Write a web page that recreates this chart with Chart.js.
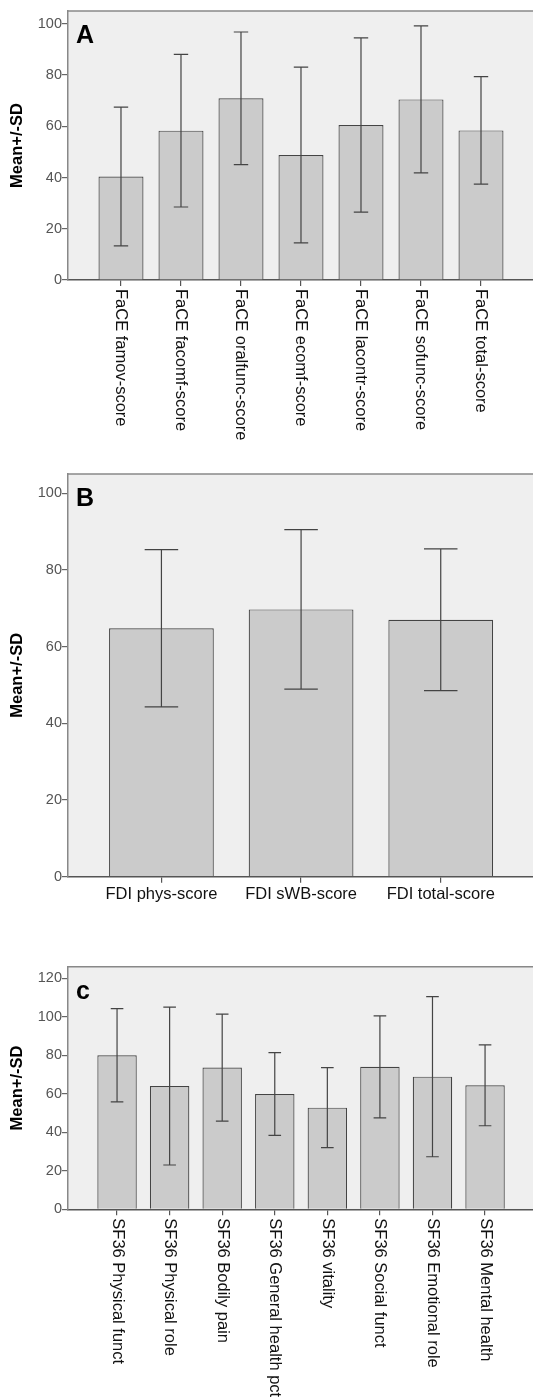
<!DOCTYPE html>
<html>
<head>
<meta charset="utf-8">
<script src="https://cdn.jsdelivr.net/npm/chart.js@4/dist/chart.umd.min.js"></script>
<style>
  html, body { margin: 0; padding: 0; background: #fff; overflow: hidden; }
  body { width: 533px; height: 1397px; position: relative; }
  canvas { position: absolute; left: 0; }
</style>
</head>
<body>
<canvas id="chartA" width="540" height="460" style="top:0px"></canvas>
<canvas id="chartB" width="540" height="450" style="top:462px"></canvas>
<canvas id="chartC" width="540" height="442" style="top:955px"></canvas>
<script>
// Panel A - FaCE scores
const faceLabels = ['FaCE famov-score', 'FaCE facomf-score', 'FaCE oralfunc-score', 'FaCE ecomf-score',
                    'FaCE lacontr-score', 'FaCE sofunc-score', 'FaCE total-score'];
const faceMeans = [40.4, 58.3, 70.9, 48.8, 60.5, 70.5, 58.4];
const faceSD = [27.1, 29.8, 25.9, 34.3, 34.0, 28.7, 21.0];

// Panel B - FDI scores
const fdiLabels = ['FDI phys-score', 'FDI sWB-score', 'FDI total-score'];
const fdiMeans = [64.8, 69.7, 67.0];
const fdiSD = [20.5, 20.8, 18.5];

// Panel C - SF36 domains
const sf36Labels = ['SF36 Physical funct', 'SF36 Physical role', 'SF36 Bodily pain', 'SF36 General health pct',
                    'SF36 vitality', 'SF36 Social funct', 'SF36 Emotional role', 'SF36 Mental health'];
const sf36Means = [80.0, 64.0, 73.6, 59.9, 52.8, 74.0, 68.9, 64.4];
const sf36SD = [24.2, 41.0, 27.8, 21.5, 20.8, 26.5, 41.6, 21.0];

// y axis tick labels run 0..top in steps of 20
const yTopA = 100, yTopB = 100, yTopC = 120;
const yStep = 20;

const FONT = '"Liberation Sans", Arial, sans-serif';
Chart.defaults.font.family = FONT;

// background, top border, panel letter, error bars, rotated labels
const panelPlugin = {
  id: 'panel',
  beforeDraw(chart) {
    const { ctx, chartArea: a } = chart;
    ctx.save();
    ctx.fillStyle = '#efefef';
    ctx.fillRect(a.left, a.top, a.right - a.left, a.bottom - a.top);
    ctx.strokeStyle = '#888';
    ctx.lineWidth = 1.5;
    ctx.beginPath();
    ctx.moveTo(a.left, a.top);
    ctx.lineTo(a.right + 5, a.top);
    ctx.stroke();
    ctx.restore();
  },
  afterDatasetsDraw(chart) {
    const { ctx, chartArea: a } = chart;
    const opts = chart.options.plugins.panel;
    const yScale = chart.scales.y;
    const meta = chart.getDatasetMeta(0);
    ctx.save();
    ctx.strokeStyle = '#444';
    ctx.lineWidth = 1.2;
    meta.data.forEach((bar, i) => {
      const m = opts.means[i], s = opts.sds[i];
      const yHi = yScale.getPixelForValue(m + s);
      const yLo = yScale.getPixelForValue(m - s);
      const cap = bar.width * 0.16;
      ctx.beginPath();
      ctx.moveTo(bar.x, yHi); ctx.lineTo(bar.x, yLo);
      ctx.moveTo(bar.x - cap, yHi); ctx.lineTo(bar.x + cap, yHi);
      ctx.moveTo(bar.x - cap, yLo); ctx.lineTo(bar.x + cap, yLo);
      ctx.stroke();
    });
    // panel letter
    ctx.fillStyle = '#000';
    ctx.font = 'bold 25px ' + FONT;
    ctx.textAlign = 'left';
    ctx.textBaseline = 'alphabetic';
    ctx.fillText(opts.letter, a.left + 8, a.top + 32);
    ctx.restore();
  },
  afterDraw(chart) {
    const opts = chart.options.plugins.panel;
    if (!opts.rotated) return;
    const { ctx, chartArea: a } = chart;
    const xScale = chart.scales.x;
    ctx.save();
    ctx.fillStyle = '#111';
    ctx.font = '16.5px ' + FONT;
    ctx.textAlign = 'left';
    ctx.textBaseline = 'middle';
    opts.labels.forEach((lab, i) => {
      ctx.save();
      ctx.translate(xScale.getPixelForValue(i), a.bottom + 9);
      ctx.rotate(Math.PI / 2);
      ctx.fillText(lab, 0, 0);
      ctx.restore();
    });
    ctx.restore();
  }
};

function makePanel(id, letter, labels, means, sds, yTop, xMin, xMax, padTop, xAxisHeight, rotated) {
  new Chart(document.getElementById(id), {
    type: 'bar',
    data: {
      datasets: [{
        data: means.map((m, i) => ({ x: i, y: m })),
        backgroundColor: '#cbcbcb',
        borderColor: '#444',
        borderWidth: 1.2,
        borderSkipped: 'bottom',
        barPercentage: 0.75,
        categoryPercentage: 1.0
      }]
    },
    options: {
      responsive: false,
      animation: false,
      layout: { padding: { top: padTop, right: 5, left: 0, bottom: 0 } },
      plugins: {
        legend: { display: false },
        tooltip: { enabled: false },
        panel: { letter, labels, means, sds, rotated }
      },
      scales: {
        x: {
          type: 'linear',
          min: xMin,
          max: xMax,
          offset: false,
          grid: { offset: false, drawOnChartArea: false, tickLength: 6, color: '#555', lineWidth: 1.2 },
          border: { color: '#555', width: 1.5 },
          ticks: {
            stepSize: 1,
            includeBounds: false,
            autoSkip: false,
            maxRotation: 0,
            padding: 2,
            color: '#111',
            font: { size: 16.5 },
            callback: v => rotated ? '' : (labels[v] || '')
          },
          afterFit: s => { s.height = xAxisHeight; }
        },
        y: {
          min: 0,
          max: yTop * 1.05,
          grid: { drawOnChartArea: false, tickLength: 6, color: '#666', lineWidth: 1.2 },
          border: { color: '#888', width: 1.5 },
          ticks: {
            stepSize: yStep,
            includeBounds: false,
            padding: 0,
            color: '#555',
            font: { size: 14.5 }
          },
          title: {
            display: true,
            text: 'Mean+/-SD',
            color: '#000',
            font: { size: 16.5, weight: 'bold' },
            padding: { top: 8, bottom: 0 }
          },
          afterFit: s => { s.width = 68; }
        }
      }
    },
    plugins: [panelPlugin]
  });
}

makePanel('chartA', 'A', faceLabels, faceMeans, faceSD, yTopA, -0.883, 6.9, 11, 180, true);
makePanel('chartB', 'B', fdiLabels, fdiMeans, fdiSD, yTopB, -0.669, 2.675, 12, 35.3, false);
makePanel('chartC', 'c', sf36Labels, sf36Means, sf36SD, yTopC, -0.933, 7.95, 11.7, 187.7, true);
</script>
</body>
</html>
